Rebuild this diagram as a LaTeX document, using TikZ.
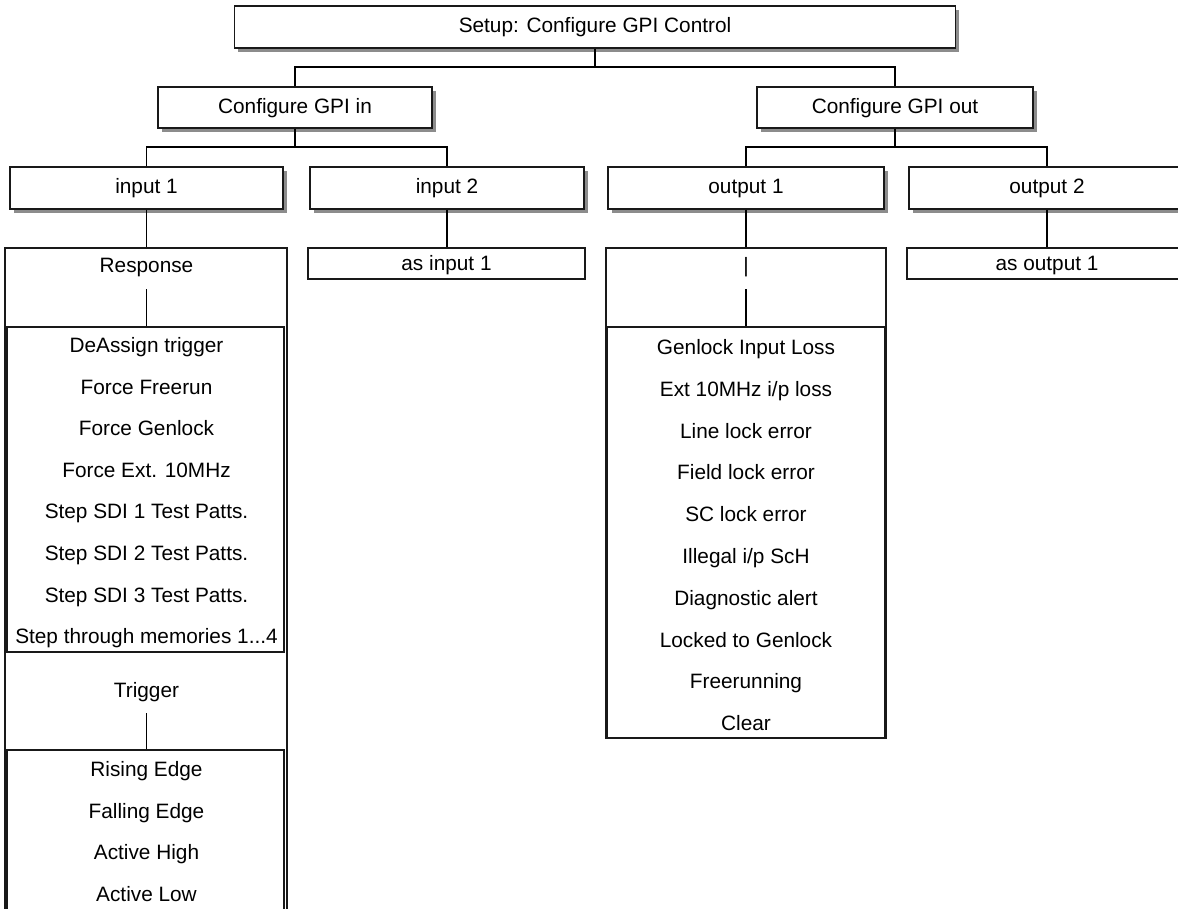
\documentclass[tikz,border=0pt]{standalone}
\usepackage{fontspec}
\setmainfont{Liberation Sans}
\usetikzlibrary{shadows}
\tikzset{
  every node/.style={font=\fontsize{20.8}{24}\selectfont, inner sep=0pt, text=black},
  lbl/.style={text height=14.9pt, text depth=0pt},
  frame/.style={rectangle, draw=black!90, line width=1.3pt, fill=white},
  hdr/.style={frame, minimum height=42pt, text height=14.9pt, text depth=3pt,
    drop shadow={shadow xshift=3.5pt, shadow yshift=-3.5pt, fill=black!45, opacity=1}},
  plain/.style={frame, minimum height=31pt, text height=14.9pt, text depth=1pt},
  link/.style={draw=black, line width=1.1pt},
}
\begin{document}
\begin{tikzpicture}[x=1pt, y=-1pt]
  \useasboundingbox (0,0) rectangle (1178,908);
  \clip (0,0) rectangle (1178,908);

  % menu levels
  \node[hdr, minimum width=721pt] (top)  at (595,27)  {Setup: Configure GPI Control};
  \node[hdr, minimum width=274pt, minimum height=41pt] (gin)  at (295,107.5) {Configure GPI in};
  \node[hdr, minimum width=276pt, minimum height=41pt] (gout) at (895,107.5) {Configure GPI out};
  \node[hdr, minimum width=273pt] (in1)  at (146.5,188) {input 1};
  \node[hdr, minimum width=274pt] (in2)  at (447,188)   {input 2};
  \node[hdr, minimum width=276pt] (out1) at (746,188)   {output 1};
  \node[hdr, minimum width=276pt] (out2) at (1047,188)  {output 2};

  % input 1 panel
  \node[frame, minimum width=282pt, minimum height=682pt] (resp) at (146,589) {};
  \node[frame, minimum width=277pt, minimum height=325pt] (lista) at (145.5,489.5) {};
  \node[frame, minimum width=277pt, minimum height=180pt] (listb) at (145.5,840) {};
  \node[lbl] (resptxt) at (146.5,265) {Response};
  \node[lbl] (trigtxt) at (146.5,690) {Trigger};
  \foreach [count=\i] \t in {DeAssign trigger, Force Freerun, Force Genlock,
      Force Ext. 10MHz, Step SDI 1 Test Patts., Step SDI 2 Test Patts.,
      Step SDI 3 Test Patts.}
    \node[lbl] (ra\i) at (146.5,{345+41.6*(\i-1)}) {\t};
  \node[lbl] (ra8) at (146.5,636.2) {Step through memories 1...4};
  \foreach [count=\i] \t in {Rising Edge, Falling Edge, Active High, Active Low}
    \node[lbl] (rb\i) at (146.5,{769+41.7*(\i-1)}) {\t};

  % output 1 panel
  \node[frame, minimum width=280pt, minimum height=490pt] (outp) at (746,493) {};
  \node[frame, minimum width=278pt, minimum height=411pt] (listc) at (746,532.5) {};
  \node[anchor=base] (bar) at (746,272) {|};
  \foreach [count=\i] \t in {Genlock Input Loss, Ext 10MHz i/p loss, Line lock error,
      Field lock error, SC lock error, Illegal i/p ScH, Diagnostic alert,
      Locked to Genlock, Freerunning, Clear}
    \node[lbl] (rc\i) at (746,{347+41.8*(\i-1)}) {\t};

  % copies
  \node[plain, minimum width=277pt] (asin)  at (446.5,263.5) {as input 1};
  \node[plain, minimum width=280pt] (asout) at (1047,263.5)  {as output 1};

  % tree connectors
  \coordinate (j0) at (595,67);
  \coordinate (j1) at (295,147);
  \coordinate (j2) at (895,147);
  \draw[link] (top.south) -- (j0);
  \draw[link] (gin.north) |- (j0) -| (gout.north);
  \draw[link] (gin.south) -- (j1);
  \draw[link] (in1.north) |- (j1) -| (in2.north);
  \draw[link] (gout.south) -- (j2);
  \draw[link] (out1.north) |- (j2) -| (out2.north);
  \draw[link] (in1.south) -- (in1.south |- resp.north);
  \draw[link] (in2.south) -- (in2.south |- asin.north);
  \draw[link] (out1.south) -- (out1.south |- outp.north);
  \draw[link] (out2.south) -- (out2.south |- asout.north);

  % inner links
  \coordinate (sa) at (146.5,289);
  \coordinate (sb) at (146.5,713);
  \coordinate (sc) at (746,289);
  \draw[link] (sa) -- (sa |- lista.north);
  \draw[link] (sb) -- (sb |- listb.north);
  \draw[link] (sc) -- (sc |- listc.north);
\end{tikzpicture}
\end{document}
